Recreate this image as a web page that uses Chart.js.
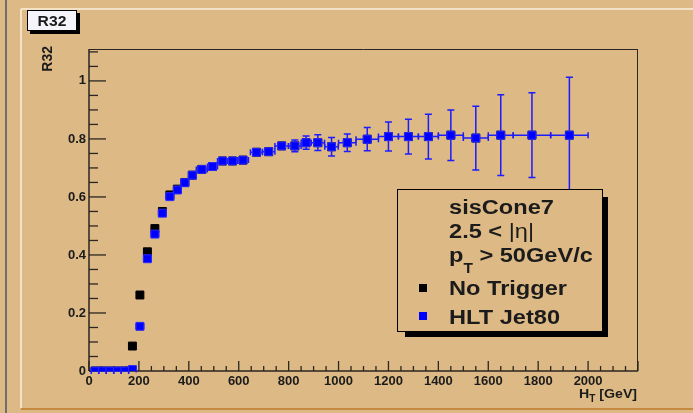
<!DOCTYPE html>
<html>
<head>
<meta charset="utf-8">
<script src="https://cdn.jsdelivr.net/npm/chart.js@4.4.1/dist/chart.umd.min.js"></script>
<style>
  html, body { margin: 0; padding: 0; background: #ddb985; }
  canvas { display: block; }
</style>
</head>
<body>
<canvas id="r32" width="693" height="413"></canvas>
<script>
// R32 vs H_T for sisCone7 jets, 2.5 < |eta|, pT > 50 GeV/c.
// Black = no trigger, blue = HLT Jet80 (drawn on top, with error bars).
const htCenters = [24, 54, 84, 114, 144, 174, 204, 234, 264, 294, 324, 354, 384, 414,
  452, 495, 535, 575, 617, 671, 720, 772, 825, 870, 917, 972, 1035, 1115, 1200, 1280,
  1360, 1450, 1550, 1650, 1775, 1925]
const htHalfWidth = [15, 15, 15, 15, 15, 15, 15, 15, 15, 15, 15, 15, 15, 15,
  22, 20, 20, 20, 22, 24, 25, 27, 25, 20, 27, 27, 35, 45, 40, 40,
  40, 50, 50, 50, 75, 75]
const r32Hlt = [0, 0, 0, 0, 0, 0.005, 0.154, 0.387, 0.472, 0.544, 0.601, 0.624, 0.649, 0.675,
  0.695, 0.705, 0.724, 0.724, 0.727, 0.754, 0.756, 0.776, 0.776, 0.787, 0.787, 0.773, 0.787,
  0.799, 0.808, 0.808, 0.808, 0.813, 0.803, 0.813, 0.813, 0.813]
const r32HltErr = [0, 0, 0, 0, 0, 0.002, 0.004, 0.005, 0.005, 0.005, 0.005, 0.005, 0.005, 0.006,
  0.006, 0.007, 0.007, 0.008, 0.009, 0.010, 0.012, 0.014, 0.020, 0.023, 0.027, 0.032, 0.030,
  0.040, 0.050, 0.060, 0.077, 0.087, 0.110, 0.139, 0.146, 0.200]
const r32NoTrig = [0, 0, 0, 0, 0, 0.086, 0.262, 0.411, 0.491, 0.550, 0.607, 0.627, 0.650, 0.675,
  0.695, 0.705, 0.724, 0.724, 0.727, 0.754, 0.756, 0.776, 0.776, 0.787, 0.787, 0.773, 0.787,
  0.799, 0.808, 0.808, 0.808, 0.813, 0.803, 0.813, 0.813, 0.813]

const xTicks = [0, 200, 400, 600, 800, 1000, 1200, 1400, 1600, 1800, 2000]
const yTicks = [0, 0.2, 0.4, 0.6, 0.8, 1]
const legendLines = ["sisCone7", "2.5 < |η|", "pT > 50GeV/c"]
const seriesNames = ["No Trigger", "HLT Jet80"]

const TAN = "#ddb985"
const INK = "#1b1b1b"
const FONT = '"Liberation Sans", Arial, Helvetica, sans-serif'

// text with a little horizontal stretch, ROOT canvases here look widened
function text(ctx, s, x, y, font, sx = 1, align = "left") {
  ctx.save()
  ctx.font = font
  ctx.translate(x, y)
  ctx.scale(sx, 1)
  ctx.textAlign = align
  ctx.textBaseline = "alphabetic"
  ctx.fillText(s, 0, 0)
  const w = ctx.measureText(s).width * sx
  ctx.restore()
  return w
}

function line(ctx, x0, y0, x1, y1) {
  ctx.beginPath(); ctx.moveTo(x0, y0); ctx.lineTo(x1, y1); ctx.stroke()
}

const rootStyle = {
  id: "rootStyle",
  beforeDraw(chart) {
    const ctx = chart.ctx
    ctx.save()
    ctx.fillStyle = TAN
    ctx.fillRect(0, 0, chart.width, chart.height)
    // pad bevel
    ctx.lineWidth = 2
    ctx.strokeStyle = "#6f6f6f"; line(ctx, 6, 0, 6, 413)
    ctx.strokeStyle = "#f3e2c6"; line(ctx, 21, 9, 693, 9); line(ctx, 21, 9, 21, 408)
    ctx.strokeStyle = "#c58a3f"; line(ctx, 21, 409, 693, 409)
    // title box
    ctx.fillStyle = "#000"; ctx.fillRect(30, 13, 50, 21)
    ctx.fillStyle = "#f6f4fb"; ctx.fillRect(27, 10, 50, 21)
    ctx.lineWidth = 1; ctx.strokeStyle = "#000"; ctx.strokeRect(27.5, 10.5, 49, 20)
    ctx.fillStyle = INK
    text(ctx, "R32", 52, 26, "bold 14px " + FONT, 1.12, "center")
    ctx.restore()
  },
  beforeDatasetsDraw(chart) {
    const ctx = chart.ctx
    const { left, right, top, bottom } = chart.chartArea
    const xs = chart.scales.x, ys = chart.scales.y
    ctx.save()
    ctx.strokeStyle = "#2a2622"
    ctx.lineWidth = 1
    line(ctx, left, top + 0.5, right, top + 0.5)
    line(ctx, right - 0.5, top, right - 0.5, bottom)
    ctx.lineWidth = 1.5
    line(ctx, left, bottom, right, bottom)
    line(ctx, left, bottom, left, top)
    ctx.lineWidth = 1.3
    for (let v = 0; v <= xs.max; v += 50) {
      const px = xs.getPixelForValue(v)
      line(ctx, px, bottom, px, bottom - (v % 200 === 0 ? 10 : 5))
    }
    for (let i = 0; i * 0.05 <= ys.max; i++) {
      const py = ys.getPixelForValue(i * 0.05)
      line(ctx, left, py, left + (i % 4 === 0 ? 17 : 9), py)
    }
    ctx.restore()
  },
  beforeDatasetDraw(chart, args) {
    const ds = chart.data.datasets[args.index]
    if (!ds.yErr) return
    const ctx = chart.ctx
    const xs = chart.scales.x, ys = chart.scales.y
    ctx.save()
    ctx.strokeStyle = ds.errColor
    ctx.lineWidth = 1.5
    ds.data.forEach((p, i) => {
      const x = xs.getPixelForValue(p.x), y = ys.getPixelForValue(p.y)
      const x0 = xs.getPixelForValue(p.x - ds.xErr[i]), x1 = xs.getPixelForValue(p.x + ds.xErr[i])
      const yLo = ys.getPixelForValue(p.y - ds.yErr[i]), yHi = ys.getPixelForValue(p.y + ds.yErr[i])
      ctx.beginPath()
      ctx.moveTo(x0, y); ctx.lineTo(x1, y)
      ctx.moveTo(x0, y - 3); ctx.lineTo(x0, y + 3)
      ctx.moveTo(x1, y - 3); ctx.lineTo(x1, y + 3)
      if (yLo - y > 4.5) {
        ctx.moveTo(x, yLo); ctx.lineTo(x, yHi)
        ctx.moveTo(x - 3.5, yLo); ctx.lineTo(x + 3.5, yLo)
        ctx.moveTo(x - 3.5, yHi); ctx.lineTo(x + 3.5, yHi)
      }
      ctx.stroke()
    })
    ctx.restore()
  },
  afterDraw(chart) {
    const ctx = chart.ctx
    ctx.save()
    ctx.fillStyle = INK
    // y title, at the top end of the axis
    ctx.save()
    ctx.translate(52, 46)
    ctx.rotate(-Math.PI / 2)
    text(ctx, "R32", 0, 0, "bold 14px " + FONT, 1, "right")
    ctx.restore()
    // x title, at the right end
    let x = 579
    x += text(ctx, "H", x, 398, "bold 13px " + FONT, 1.09)
    x += text(ctx, "T", x, 402, "bold 10px " + FONT, 1.0)
    text(ctx, " [GeV]", x, 398, "bold 13px " + FONT, 1.09)

    // legend box with shadow
    ctx.fillStyle = "#000"
    ctx.fillRect(405, 197, 203, 140)
    ctx.fillStyle = TAN
    ctx.fillRect(397, 189, 206, 143)
    ctx.strokeStyle = "#000"; ctx.lineWidth = 1
    ctx.strokeRect(397.5, 189.5, 205, 142)

    const big = "bold 20px " + FONT, sx = 1.18
    ctx.fillStyle = INK
    text(ctx, legendLines[0], 449, 214, big, sx)
    x = 449 + text(ctx, "2.5 < ", 449, 238, big, sx)
    text(ctx, "|η|", x, 238, "20px " + FONT, sx)
    x = 449 + text(ctx, "p", 449, 261.5, big, sx)
    x += text(ctx, "T", x, 273, "bold 14px " + FONT, 1.1)
    text(ctx, " > 50GeV/c", x, 261.5, big, sx)
    text(ctx, seriesNames[0], 449, 295, big, sx)
    text(ctx, seriesNames[1], 449, 324, big, sx)
    ctx.fillStyle = "#000"; ctx.fillRect(419, 284, 8, 8)
    ctx.fillStyle = "#0000ff"; ctx.fillRect(419, 312, 8, 8)
    ctx.restore()
  }
}

const tickFont = { family: FONT, size: 13, weight: "bold" }

new Chart(document.getElementById("r32"), {
  type: "scatter",
  data: {
    datasets: [
      {
        label: seriesNames[1],
        data: htCenters.map((h, i) => ({ x: h, y: r32Hlt[i] })),
        xErr: htHalfWidth,
        yErr: r32HltErr,
        errColor: "#1c1cff",
        pointStyle: "rect",
        pointRadius: 5.6,
        pointBackgroundColor: "#0000ff",
        pointBorderColor: "#2a2aff",
        pointBorderWidth: 1,
        order: 1,
      },
      {
        label: seriesNames[0],
        data: htCenters.map((h, i) => ({ x: h, y: r32NoTrig[i] })),
        pointStyle: "rect",
        pointRadius: 5.6,
        pointBackgroundColor: "#000",
        pointBorderColor: "#000",
        pointBorderWidth: 1,
        order: 2,
      }
    ]
  },
  options: {
    responsive: false,
    devicePixelRatio: 1,
    animation: false,
    events: [],
    layout: { padding: { left: 49, top: 49, right: 55, bottom: 22 } },
    plugins: { legend: { display: false }, tooltip: { enabled: false } },
    scales: {
      x: {
        type: "linear", min: 0, max: 2200,
        afterFit: (s) => { s.height = 20 },
        afterBuildTicks: (s) => { s.ticks = xTicks.map(v => ({ value: v })) },
        grid: { display: false, drawTicks: false },
        border: { display: false },
        ticks: { padding: 3, color: INK, font: tickFont, maxRotation: 0, autoSkip: false,
                 callback: (v) => String(v) }
      },
      y: {
        type: "linear", min: 0, max: 1.11,
        afterFit: (s) => { s.width = 40 },
        afterBuildTicks: (s) => { s.ticks = yTicks.map(v => ({ value: v })) },
        grid: { display: false, drawTicks: false },
        border: { display: false },
        ticks: { padding: 3, color: INK, font: tickFont, autoSkip: false,
                 callback: (v) => String(Math.round(v * 10) / 10) }
      }
    }
  },
  plugins: [rootStyle]
})
</script>
</body>
</html>
